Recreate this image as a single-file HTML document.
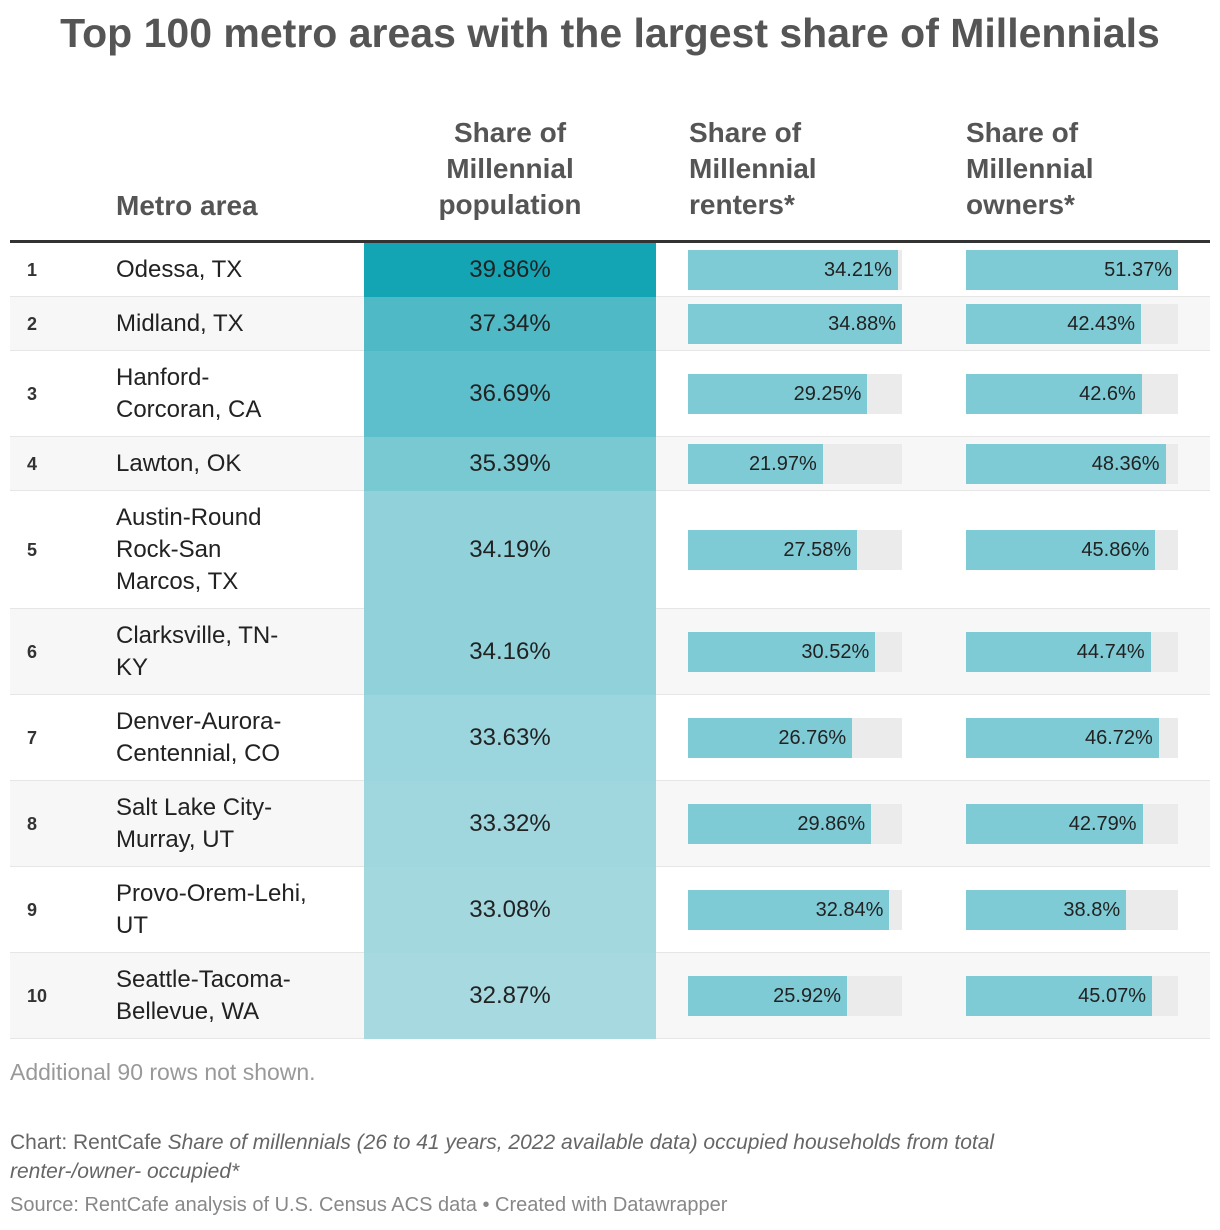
<!DOCTYPE html>
<html><head><meta charset="utf-8"><style>
body{margin:0;width:1220px;height:1230px;background:#fff;font-family:"Liberation Sans",sans-serif;position:relative;overflow:hidden}
.a{position:absolute}
.title{left:0;width:1220px;top:10px;text-align:center;font-weight:bold;font-size:41px;color:#555}
.hd{font-weight:bold;font-size:28px;color:#555;line-height:36px}
.row{left:10px;width:1200px;border-bottom:1px solid #e6e6e6}
.cell{display:flex;align-items:center;font-size:24px;color:#222;line-height:32px}
.rank{font-weight:bold;font-size:18px;color:#333}
.bl{font-size:20px;color:#222;display:flex;align-items:center;justify-content:flex-end;padding-right:6px;box-sizing:border-box}
.foot{color:#888;font-size:21px}
</style></head><body>
<div class="a title">Top 100 metro areas with the largest share of Millennials</div>
<div class="a hd" style="left:116px;top:188px">Metro area</div>
<div class="a hd" style="left:364px;width:292px;top:115px;text-align:center">Share of<br>Millennial<br>population</div>
<div class="a hd" style="left:689px;top:115px">Share of<br>Millennial<br>renters*</div>
<div class="a hd" style="left:966px;top:115px">Share of<br>Millennial<br>owners*</div>
<div class="a" style="left:10px;width:1200px;top:240px;height:3px;background:#333"></div>
<div id="tbl"></div>
<div class="a foot" style="left:10px;top:1059px;color:#999;font-size:23px">Additional 90 rows not shown.</div>
<div class="a foot" style="left:10px;top:1128px;width:1100px;line-height:29px;color:#666">Chart: RentCafe <i>Share of millennials (26 to 41 years, 2022 available data) occupied households from total renter-/owner- occupied*</i></div>
<div class="a foot" style="left:10px;top:1194px;font-size:20px">Source: RentCafe analysis of U.S. Census ACS data • Created with Datawrapper</div>
<script>
const metros=["Odessa, TX","Midland, TX","Hanford-<br>Corcoran, CA","Lawton, OK","Austin-Round<br>Rock-San<br>Marcos, TX","Clarksville, TN-<br>KY","Denver-Aurora-<br>Centennial, CO","Salt Lake City-<br>Murray, UT","Provo-Orem-Lehi,<br>UT","Seattle-Tacoma-<br>Bellevue, WA"];
const population=[39.86,37.34,36.69,35.39,34.19,34.16,33.63,33.32,33.08,32.87];
const renters=[34.21,34.88,29.25,21.97,27.58,30.52,26.76,29.86,32.84,25.92];
const owners=[51.37,42.43,42.6,48.36,45.86,44.74,46.72,42.79,38.8,45.07];
const heights=[54,54,86,54,118,86,86,86,86,86];
const rMax=Math.max(...renters), oMax=Math.max(...owners);
const pMin=Math.min(...population), pMax=Math.max(...population);
function heat(v){const t=(v-pMin)/(pMax-pMin);const lo=[166,217,224],hi=[20,165,181];const k=Math.pow(t,1.15);return 'rgb('+lo.map((c,i)=>Math.round(c+(hi[i]-c)*k)).join(',')+')';}
const tbl=document.getElementById('tbl');
let y=243;
metros.forEach((m,i)=>{
 const h=heights[i];
 const r=document.createElement('div');r.className='a row';
 
 
 r.style.top=y+'px';r.style.height=(h-1)+'px';r.style.background=i%2?'#f7f7f7':'#fff';
 let html='';
 html+='<div class="a cell rank" style="left:17px;top:0;height:'+(h-1)+'px">'+(i+1)+'</div>';
 html+='<div class="a cell" style="left:106px;top:0;height:'+(h-1)+'px">'+m+'</div>';
 html+='<div class="a cell" style="left:354px;width:292px;top:0;height:'+h+'px;justify-content:center;background:'+heat(population[i])+'">'+population[i]+'%</div>';
 const bt=Math.round((h-1)/2-20);
 html+='<div class="a" style="left:678px;top:'+bt+'px;width:214px;height:40px;background:#ebebeb"></div>';
 html+='<div class="a bl" style="left:678px;top:'+bt+'px;width:'+(214*renters[i]/rMax)+'px;height:40px;background:#7ecad5">'+renters[i]+'%</div>';
 html+='<div class="a" style="left:956px;top:'+bt+'px;width:212px;height:40px;background:#ebebeb"></div>';
 html+='<div class="a bl" style="left:956px;top:'+bt+'px;width:'+(212*owners[i]/oMax)+'px;height:40px;background:#7ecad5">'+owners[i]+'%</div>';
 r.innerHTML=html;tbl.appendChild(r);y+=h;
});
</script>
</body></html>
